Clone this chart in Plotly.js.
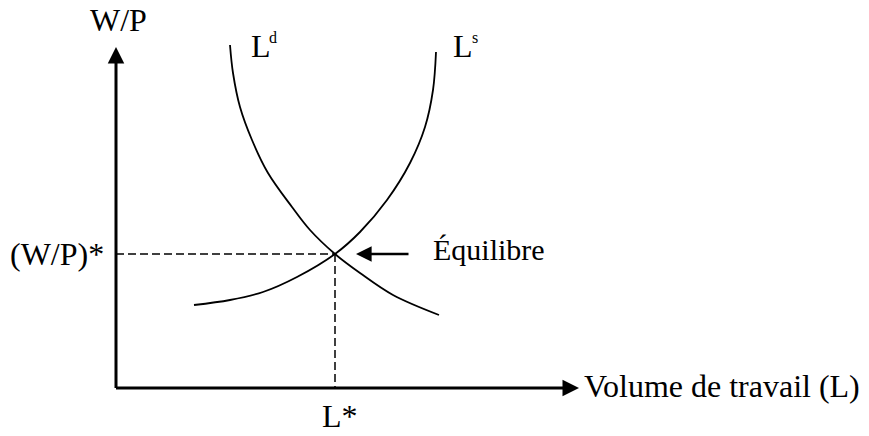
<!DOCTYPE html>
<html>
<head>
<meta charset="utf-8">
<script src="https://cdn.plot.ly/plotly-3.0.1.min.js"></script>
<style>html,body{margin:0;padding:0;background:#fff;}#chart{width:869px;height:436px;}</style>
</head>
<body>
<div id="chart"></div>
<script>
// Labour demand curve (L^d)
const demandX = [114, 117, 124, 136, 152, 176, 194, 219, 244, 277, 323];
const demandY = [343, 315, 281, 248, 215, 181, 158, 134, 115, 93, 73];
// Labour supply curve (L^s)
const supplyX = [78, 114, 147, 181, 219, 244, 271, 294, 309, 317, 320];
const supplyY = [83, 88, 96, 111, 134, 156, 188, 225, 261, 298, 336];
// Equilibrium (L*, (W/P)*)
const eqL = 219;
const eqW = 134;
// Labels
const yAxisLabel = "W/P";
const xAxisLabel = "Volume de travail (L)";
const eqWLabel = "(W/P)*";
const eqLLabel = "L*";
const eqLabel = "Équilibre";

const FONT = "Liberation Serif, Times New Roman, serif";
const FS = 32;

const traces = [
  {x: demandX, y: demandY, mode: 'lines', line: {color: '#000', width: 1.8, shape: 'spline'}, hoverinfo: 'skip'},
  {x: supplyX, y: supplyY, mode: 'lines', line: {color: '#000', width: 1.8, shape: 'spline'}, hoverinfo: 'skip'},
  {x: [0, eqL], y: [eqW, eqW], mode: 'lines', line: {color: '#000', width: 1.5, dash: '8px,4px'}, hoverinfo: 'skip'},
  {x: [eqL, eqL], y: [eqW, 0], mode: 'lines', line: {color: '#000', width: 1.5, dash: '8px,4px'}, hoverinfo: 'skip'}
];

function txt(text, x, y, xanchor, size, yanchor) {
  return {text: text, x: x, y: y, xref: 'x', yref: 'y', showarrow: false,
          xanchor: xanchor, yanchor: yanchor || 'middle', font: {family: FONT, size: size || FS, color: '#000'}};
}
function arrow(x, y, ax, ay, w, s) {
  return {text: '', x: x, y: y, ax: ax, ay: ay, xref: 'x', yref: 'y', axref: 'x', ayref: 'y',
          showarrow: true, arrowhead: 2, arrowwidth: w, arrowsize: s, arrowcolor: '#000', standoff: 0, startstandoff: 0};
}

const layout = {
  width: 869, height: 436,
  margin: {l: 0, r: 0, t: 0, b: 0},
  paper_bgcolor: '#fff', plot_bgcolor: '#fff',
  showlegend: false,
  xaxis: {range: [-116, 753], visible: false, fixedrange: true},
  yaxis: {range: [-48, 388], visible: false, fixedrange: true},
  annotations: [
    arrow(0, 341, 0, -1.5, 3, 1.1),
    arrow(463, 0, -1.5, 0, 3, 1.1),
    arrow(eqL + 21, eqW, eqL + 75, eqW, 2.5, 1.25),
    txt(yAxisLabel, 2, 368, 'center'),
    txt('L', 133, 342, 'left'),
    txt('d', 157, 351, 'center', 16),
    txt('L', 335, 342, 'left'),
    txt('s', 359, 351, 'center', 16),
    txt(eqWLabel, -10, eqW, 'right'),
    txt(eqLabel, 315, 139, 'left', 30),
    txt(eqLLabel, 224, -48, 'center', FS, 'bottom'),
    txt(xAxisLabel, 466, 2, 'left')
  ]
};

Plotly.newPlot('chart', traces, layout, {staticPlot: true, displayModeBar: false});
</script>
</body>
</html>
